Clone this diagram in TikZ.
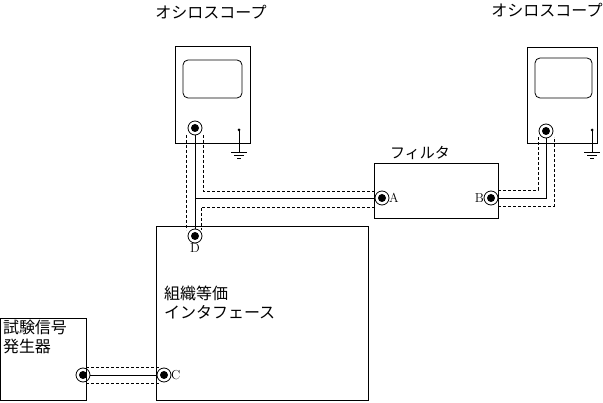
\documentclass[tikz,border=0pt]{standalone}
\usepackage{fontspec}
\newfontfamily\jp{Noto Sans CJK JP}
\begin{document}
\begin{tikzpicture}[x=1pt,y=-1pt,inner sep=0pt,outer sep=0pt,thick,
box/.style={draw,thick},
jack/.style={draw,circle,minimum size=14pt,thick,path picture={\fill (path picture bounding box.center) circle (4pt);}},
shield/.style={densely dashed,thin},
lbl/.style={font=\jp\fontsize{16}{19}\selectfont,align=left},
pin/.style={font=\fontsize{13}{15}\selectfont}]
\useasboundingbox (0,0) rectangle (603,403);

% oscilloscopes
\draw[box] (175,46) rectangle (250,143);
\draw[box,rounded corners=5pt] (183,60) rectangle (242,98);
\node[jack] (scopeL) at (195,128) {};
\node[lbl] (titleL) at (211,12) {オシロスコープ};
\draw[box] (527,47) rectangle (597,143);
\draw[box,rounded corners=5pt] (535,58) rectangle (592,98);
\node[jack] (scopeR) at (546,131) {};
\node[lbl] (titleR) at (547,10) {オシロスコープ};

% grounds
\foreach \gx in {239,592} {
  \fill (\gx,130) circle (1.5pt);
  \draw (\gx,130) -- (\gx,152);
  \draw (\gx-8,152) -- (\gx+8,152);
  \draw (\gx-5,155) -- (\gx+5,155);
  \draw (\gx-2,158) -- (\gx+2,158);
}

% filter
\draw[box] (374,163) rectangle (498,218);
\node[lbl,font=\jp\fontsize{15}{18}\selectfont] (filt) at (420,153) {フィルタ};
\node[jack] (A) at (382,198) {};
\node[pin,anchor=west] at (A.east) {A};
\node[jack] (B) at (491,198) {};
\node[pin,anchor=east] at (B.west) {B};

% interface
\draw[box] (156,226) rectangle (368,400);
\node[jack] (D) at (195,236) {};
\node[pin,anchor=north] at ([yshift=-1pt]D.south) {D};
\node[lbl,anchor=north west] (intf) at (164,286) {組織等価\\インタフェース};
\node[jack] (C) at (164,375) {};
\node[pin,anchor=west] at (C.east) {C};

% generator
\draw[box] (0,318) rectangle (86,400);
\node[lbl,anchor=north west] (gen) at (3,320) {試験信号\\発生器};
\node[jack] (G) at (83,375) {};

% cables
\draw (scopeL) -- (D);
\draw (195,198) -- (A);
\draw[shield] (186,135) -- (186,230);
\draw[shield] (203,135) -- (203,191) -- (375,191);
\draw[shield] (375,207) -- (201,207) -- (201,230);
\draw (B) -| (scopeR);
\draw[shield] (498,190) -- (538,190) -- (538,137);
\draw[shield] (498,206) -- (554,206) -- (554,137);
\draw (G) -- (C);
\draw[shield] (86,367) -- (160,367);
\draw[shield] (86,383) -- (160,383);
\end{tikzpicture}
\end{document}
